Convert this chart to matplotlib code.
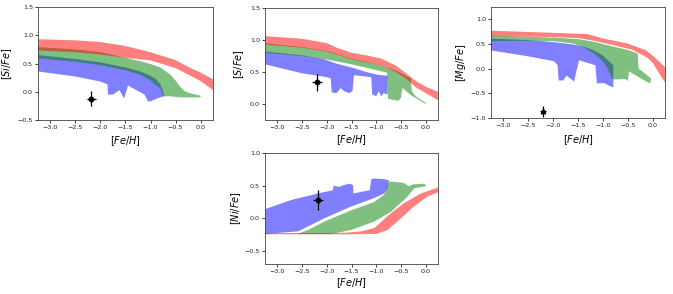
import numpy as np
import matplotlib
matplotlib.use("Agg")
import matplotlib.pyplot as plt

# ---------------- data ----------------
# Each band: upper edge (x, y) and lower edge (x, y)
# ---- [Si/Fe]
si_red_up_x = [-3.25, -2.5, -2.0, -1.5, -1.0, -0.5, -0.2, 0.0, 0.25]
si_red_up_y = [0.93, 0.91, 0.88, 0.81, 0.70, 0.56, 0.42, 0.34, 0.22]
si_red_lo_x = [-3.25, -2.5, -2.0, -1.5, -1.0, -0.5, 0.0, 0.25]
si_red_lo_y = [0.73, 0.70, 0.66, 0.60, 0.555, 0.42, 0.19, 0.03]

si_grn_up_x = [-3.25, -2.5, -2.0, -1.5, -1.2, -1.0, -0.8, -0.6, -0.5, -0.4, -0.3, -0.15, 0.0]
si_grn_up_y = [0.79, 0.75, 0.70, 0.60, 0.54, 0.49, 0.43, 0.30, 0.20, 0.08, 0.0, -0.04, -0.07]
si_grn_lo_x = [-3.25, -2.5, -2.0, -1.5, -1.2, -1.0, -0.9, -0.8, -0.75, -0.6, -0.4, -0.2, 0.0]
si_grn_lo_y = [0.59, 0.53, 0.47, 0.38, 0.30, 0.20, 0.12, 0.06, -0.08, -0.08, -0.10, -0.10, -0.10]

si_blu_up_x = [-3.25, -2.5, -2.0, -1.5, -1.2, -1.0, -0.9, -0.8, -0.75, -0.73]
si_blu_up_y = [0.65, 0.58, 0.52, 0.43, 0.36, 0.28, 0.23, 0.13, 0.01, -0.08]
si_blu_lo_x = [-3.25, -2.5, -2.0, -1.86, -1.85, -1.75, -1.62, -1.53, -1.45, -1.12, -1.05, -1.0, -0.85, -0.73]
si_blu_lo_y = [0.36, 0.27, 0.18, 0.13, -0.05, -0.05, 0.03, -0.12, 0.11, -0.05, -0.17, -0.17, -0.11, -0.08]

si_pt = (-2.18, -0.12, 0.09, 0.13)

# ---- [S/Fe]
s_red_up_x = [-3.25, -2.5, -2.0, -1.8, -1.5, -1.2, -0.9, -0.6, -0.4, -0.2, 0.0, 0.25]
s_red_up_y = [1.06, 1.02, 0.95, 0.88, 0.80, 0.76, 0.71, 0.60, 0.48, 0.36, 0.27, 0.19]
s_red_lo_x = [-3.25, -2.5, -2.0, -1.5, -1.2, -0.9, -0.6, -0.4, -0.2, 0.0, 0.25]
s_red_lo_y = [0.93, 0.88, 0.82, 0.70, 0.65, 0.60, 0.50, 0.40, 0.26, 0.17, 0.06]

s_grn_up_x = [-3.25, -2.5, -2.0, -1.5, -1.2, -0.9, -0.6, -0.3, -0.28, -0.2, 0.0]
s_grn_up_y = [0.95, 0.89, 0.83, 0.71, 0.66, 0.60, 0.52, 0.40, 0.20, 0.12, 0.02]
s_grn_lo_x = [-3.25, -2.5, -2.1, -1.5, -1.0, -0.78, -0.76, -0.55, -0.5, -0.47, -0.3, 0.0]
s_grn_lo_y = [0.80, 0.75, 0.71, 0.62, 0.53, 0.49, 0.08, 0.05, 0.10, 0.25, 0.14, 0.0]

s_blu_up_x = [-3.25, -2.5, -2.1, -1.8, -1.5, -1.2, -1.0, -0.77]
s_blu_up_y = [0.82, 0.76, 0.71, 0.63, 0.57, 0.50, 0.46, 0.44]
s_blu_lo_x = [-3.25, -2.5, -2.0, -1.92, -1.9, -1.8, -1.72, -1.65, -1.55, -1.48, -1.45, -1.1, -1.08, -1.0, -0.95, -0.9, -0.85, -0.77]
s_blu_lo_y = [0.62, 0.48, 0.42, 0.40, 0.18, 0.17, 0.25, 0.20, 0.17, 0.20, 0.45, 0.42, 0.15, 0.12, 0.20, 0.12, 0.17, 0.15]

s_pt = (-2.2, 0.34, 0.10, 0.13)

# ---- [Mg/Fe]
mg_red_up_x = [-3.25, -2.1, -1.3, -1.0, -0.5, -0.13, 0.03, 0.25]
mg_red_up_y = [0.77, 0.73, 0.70, 0.61, 0.51, 0.37, 0.24, 0.03]
mg_red_lo_x = [-3.25, -2.0, -1.5, -1.2, -0.8, -0.4, -0.1, 0.0, 0.25]
mg_red_lo_y = [0.66, 0.64, 0.62, 0.57, 0.48, 0.38, 0.22, 0.12, -0.28]

mg_grn_up_x = [-3.25, -2.0, -1.5, -1.2, -1.0, -0.8, -0.5, -0.3, -0.28, -0.15, -0.03]
mg_grn_up_y = [0.67, 0.63, 0.60, 0.55, 0.50, 0.45, 0.38, 0.31, 0.0, -0.1, -0.2]
mg_grn_lo_x = [-3.25, -2.4, -2.0, -1.6, -1.4, -1.2, -1.0, -0.9, -0.82, -0.78, -0.55, -0.5, -0.47, -0.4, -0.2, -0.05]
mg_grn_lo_y = [0.56, 0.565, 0.56, 0.51, 0.44, 0.32, 0.15, 0.0, -0.2, -0.22, -0.21, -0.25, -0.05, -0.1, -0.22, -0.30]

mg_blu_up_x = [-3.25, -2.5, -2.0, -1.6, -1.4, -1.2, -1.0, -0.9, -0.79]
mg_blu_up_y = [0.61, 0.58, 0.54, 0.49, 0.45, 0.38, 0.27, 0.17, 0.07]
mg_blu_lo_x = [-3.25, -2.5, -1.98, -1.91, -1.89, -1.80, -1.73, -1.58, -1.48, -1.15, -1.12, -0.98, -0.82, -0.79]
mg_blu_lo_y = [0.37, 0.25, 0.15, 0.07, -0.24, -0.24, -0.14, -0.26, 0.17, 0.07, -0.30, -0.29, -0.37, -0.37]

mg_pt = (-2.2, -0.86, 0.06, 0.11)

# ---- [Ni/Fe]
ni_red_up_x = [-3.25, -2.0, -1.6, -1.3, -1.04, -0.7, -0.44, -0.1, 0.25]
ni_red_up_y = [-0.225, -0.225, -0.22, -0.20, -0.15, 0.08, 0.23, 0.38, 0.47]
ni_red_lo_x = [-3.25, -2.0, -1.5, -1.0, -0.77, -0.5, -0.24, 0.03, 0.25]
ni_red_lo_y = [-0.245, -0.245, -0.245, -0.24, -0.18, 0.0, 0.18, 0.33, 0.40]

ni_grn_up_x = [-2.6, -2.38, -2.05, -1.51, -1.04, -0.84, -0.74, -0.64, -0.44, -0.34, -0.25, -0.03, 0.0]
ni_grn_up_y = [-0.24, -0.18, -0.05, 0.12, 0.25, 0.36, 0.56, 0.56, 0.54, 0.49, 0.52, 0.53, 0.51]
ni_grn_lo_x = [-2.6, -1.91, -1.51, -1.04, -0.7, -0.37, -0.23, 0.0]
ni_grn_lo_y = [-0.24, -0.24, -0.18, -0.05, 0.10, 0.33, 0.46, 0.49]

ni_blu_up_x = [-3.25, -2.72, -2.18, -1.88, -1.86, -1.75, -1.65, -1.54, -1.47, -1.46, -1.4, -1.13, -1.1, -1.04, -0.84, -0.74]
ni_blu_up_y = [0.14, 0.28, 0.38, 0.43, 0.50, 0.48, 0.51, 0.53, 0.51, 0.38, 0.39, 0.43, 0.60, 0.61, 0.60, 0.58]
ni_blu_lo_x = [-3.25, -2.58, -2.05, -1.51, -1.04, -0.84, -0.77, -0.74]
ni_blu_lo_y = [-0.24, -0.20, 0.0, 0.18, 0.31, 0.38, 0.46, 0.58]

ni_pt = (-2.18, 0.28, 0.10, 0.16)

ylabels = [r'$[Si/Fe]$', r'$[S/Fe]$', r'$[Mg/Fe]$', r'$[Ni/Fe]$']
xlabel = r'$[Fe/H]$'
xticks = [-3.0, -2.5, -2.0, -1.5, -1.0, -0.5, 0.0]

# ---------------- drawing ----------------
fig = plt.figure(figsize=(6.73, 2.94), dpi=100)
W, H = 673.0, 294.0

def box(l, r, t, b):
    return [l / W, 1 - b / H, (r - l) / W, (b - t) / H]

def band(ax, ux, uy, lx, ly, color):
    xs = np.concatenate([ux, lx[::-1]])
    ys = np.concatenate([uy, ly[::-1]])
    ax.fill(xs, ys, color=color, alpha=0.5, lw=0)

panels = [
    dict(pos=box(38, 213, 7, 120), ylim=(-0.5, 1.5), yt=[-0.5, 0.0, 0.5, 1.0, 1.5],
         blue=(si_blu_up_x, si_blu_up_y, si_blu_lo_x, si_blu_lo_y),
         green=(si_grn_up_x, si_grn_up_y, si_grn_lo_x, si_grn_lo_y),
         red=(si_red_up_x, si_red_up_y, si_red_lo_x, si_red_lo_y),
         pt=si_pt, mk='o', yl=ylabels[0], ylc=-0.135, xlc=-0.125),
    dict(pos=box(265, 438, 8, 120), ylim=(-0.25, 1.5), yt=[0.0, 0.5, 1.0, 1.5],
         blue=(s_blu_up_x, s_blu_up_y, s_blu_lo_x, s_blu_lo_y),
         green=(s_grn_up_x, s_grn_up_y, s_grn_lo_x, s_grn_lo_y),
         red=(s_red_up_x, s_red_up_y, s_red_lo_x, s_red_lo_y),
         pt=s_pt, mk='o', yl=ylabels[1], ylc=-0.112, xlc=-0.12),
    dict(pos=box(491, 665, 7, 118), ylim=(-1.0, 1.25), yt=[-1.0, -0.5, 0.0, 0.5, 1.0],
         blue=(mg_blu_up_x, mg_blu_up_y, mg_blu_lo_x, mg_blu_lo_y),
         green=(mg_grn_up_x, mg_grn_up_y, mg_grn_lo_x, mg_grn_lo_y),
         red=(mg_red_up_x, mg_red_up_y, mg_red_lo_x, mg_red_lo_y),
         pt=mg_pt, mk='^', yl=ylabels[2], ylc=-0.132, xlc=-0.135),
    dict(pos=box(265, 438, 153, 264), ylim=(-0.7, 1.0), yt=[-0.5, 0.0, 0.5, 1.0],
         blue=(ni_blu_up_x, ni_blu_up_y, ni_blu_lo_x, ni_blu_lo_y),
         green=(ni_grn_up_x, ni_grn_up_y, ni_grn_lo_x, ni_grn_lo_y),
         red=(ni_red_up_x, ni_red_up_y, ni_red_lo_x, ni_red_lo_y),
         pt=ni_pt, mk='o', yl=ylabels[3], ylc=-0.125, xlc=-0.11),
]

for p in panels:
    ax = fig.add_axes(p['pos'])
    band(ax, *[np.array(a) for a in p['blue']], 'blue')
    band(ax, *[np.array(a) for a in p['green']], 'green')
    band(ax, *[np.array(a) for a in p['red']], 'red')
    x, y, xe, ye = p['pt']
    ax.errorbar([x], [y], xerr=[xe], yerr=[ye], fmt=p['mk'], color='black',
                ms=3.2, elinewidth=0.9, capsize=0)
    ax.set_xlim(-3.25, 0.25)
    ax.set_ylim(*p['ylim'])
    ax.set_xticks(xticks)
    ax.set_yticks(p['yt'])
    ax.tick_params(labelsize=4.6, length=2.2, width=0.6, pad=1.5, colors='#222222')
    for s in ax.spines.values():
        s.set_linewidth(0.6)
        s.set_color('#444444')
    ax.set_xlabel(xlabel, fontsize=7)
    ax.set_ylabel(p['yl'], fontsize=7)
    ax.yaxis.set_label_coords(p['ylc'], 0.5)
    ax.xaxis.set_label_coords(0.5, p['xlc'])

fig.savefig('out.png', dpi=100)
